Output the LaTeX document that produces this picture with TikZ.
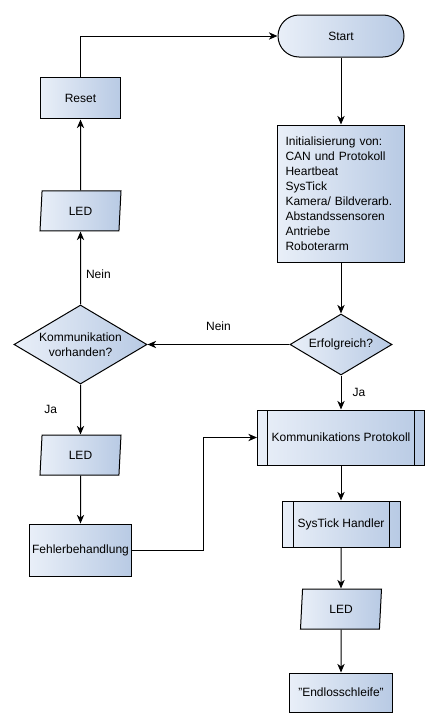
\documentclass[tikz,border=0pt]{standalone}
\usepackage{fontspec}
\setmainfont{Liberation Sans}
\usepackage{tikz}
\usetikzlibrary{positioning,shapes.geometric,arrows.meta}

\newlength\px
\setlength\px{0.75pt}
\definecolor{boxlight}{RGB}{233,239,248}
\definecolor{boxdark}{RGB}{184,202,228}

\tikzset{
  base/.style={draw=black,line width=1\px,left color=boxlight,right color=boxdark,inner sep=0pt},
  term/.style={base,rectangle,rounded corners=21\px,minimum width=126\px,minimum height=42\px},
  proc/.style={base,rectangle},
  subproc/.style={proc,path picture={
      \draw[line width=1\px]
        ([xshift=#1]path picture bounding box.north west) -- ([xshift=#1]path picture bounding box.south west)
        ([xshift=-#1]path picture bounding box.north east) -- ([xshift=-#1]path picture bounding box.south east);}},
  decision/.style={base,diamond,align=center,shape aspect=1.7},
  io/.style={base,trapezium,trapezium left angle=76,trapezium right angle=104,
    trapezium stretches body,minimum width=81\px,minimum height=40\px},
}

\begin{document}
\begin{tikzpicture}[x=1\px,y=-1\px,line width=1\px,inner sep=0pt,
    font=\fontsize{9pt}{11.2pt}\selectfont,
    >={Stealth[length=6.5pt,width=5.5pt,inset=2pt]}]
  \useasboundingbox (0,0) rectangle (440,721);

  % right column
  \node[term](start) at (341,36) {Start};
  \node[proc,below=67\px of start,text width=111\px,inner xsep=8\px,minimum height=137\px,align=left](init)
    {Initialisierung von:\\CAN und Protokoll\\Heartbeat\\SysTick\\Kamera/ Bildverarb.\\Abstandssensoren\\Antriebe\\Roboterarm};
  \node[decision,below=51\px of init,minimum width=102\px,minimum height=61\px](erfolg){Erfolgreich?};
  \node[subproc=10\px,below=34\px of erfolg,minimum width=167\px,minimum height=55\px](kp){Kommunikations Protokoll};
  \node[subproc=11\px,below=35\px of kp,minimum width=118\px,minimum height=46\px](systick){SysTick Handler};
  \node[io,below=41\px of systick](led3){LED};
  \node[proc,below=43\px of led3,minimum width=103\px,minimum height=39\px](endl){"Endlosschleife"};

  % left column
  \node[decision,left=142\px of erfolg,minimum width=133\px,minimum height=79\px](komm){Kommunikation\\vorhanden?};
  \node[io,above=73\px of komm](led1){LED};
  \node[proc,above=71\px of led1,minimum width=80\px,minimum height=41\px](reset){Reset};
  \node[io,below=50\px of komm](led2){LED};
  \node[proc,below=48\px of led2,minimum width=102\px,minimum height=52\px](fehler){Fehlerbehandlung};

  \path[->]
    (start) edge (init)
    (init) edge (erfolg)
    (erfolg) edge node[above=13\px]{Nein} (komm)
    (erfolg) edge node[right=11\px]{Ja} (kp)
    (komm) edge node[pos=0.42,right=5\px]{Nein} (led1)
    (led1) edge (reset)
    (komm) edge node[left=23\px]{Ja} (led2)
    (led2) edge (fehler)
    (kp) edge (systick)
    (systick) edge (led3)
    (led3) edge (endl)
  ;
  \draw[->] (reset) |- (start);
  \draw[->] (fehler.east) -- ++(71,0) |- (kp);
\end{tikzpicture}
\end{document}
